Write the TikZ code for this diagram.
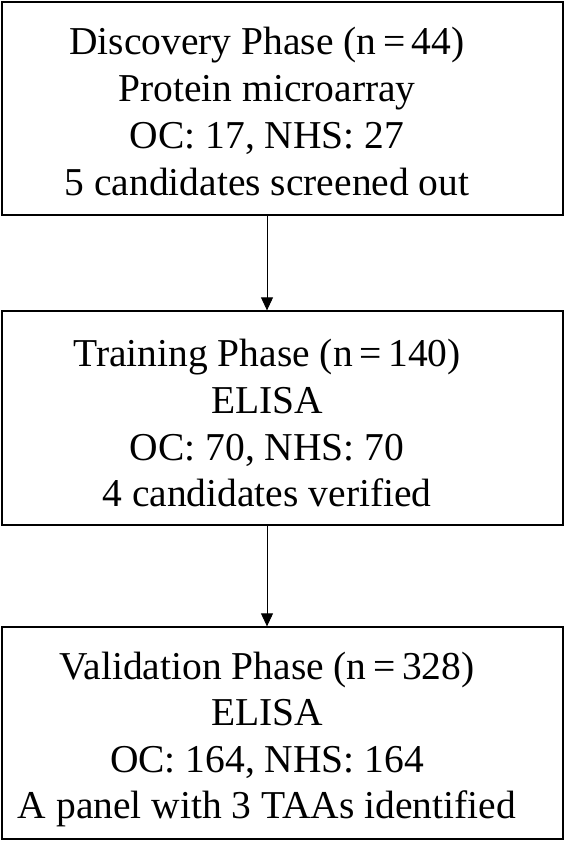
\documentclass[tikz,border=0pt]{standalone}
\usepackage{fontspec}
\setmainfont{Liberation Serif}
\usetikzlibrary{arrows.meta}
\begin{document}
\begin{tikzpicture}[x=1pt,y=1pt,
  box/.style={draw=black,line width=1.3pt,minimum width=561pt,inner sep=0pt},
  txt/.style={anchor=base,inner sep=0pt,font=\fontsize{39.5}{46.7}\selectfont},
  conn/.style={draw=black,line width=0.9pt,-{Triangle[width=12pt,length=13pt]}}]
\useasboundingbox (0,0) rectangle (567,-842);
\fill[white] (0,0) rectangle (567,-842);
% boxes
\node[box,minimum height=213pt] (b1) at (282.5,-108.5) {};
\node[box,minimum height=214pt] (b2) at (282.5,-418) {};
\node[box,minimum height=212pt] (b3) at (282.5,-733) {};
% box 1 text
\node[txt] (t11) at (267,-55) {Discovery Phase (n\,=\,44)};
\node[txt] (t12) at (267,-101.7) {Protein microarray};
\node[txt] (t13) at (267,-148.4) {OC: 17, NHS: 27};
\node[txt] (t14) at (267,-195.1) {5 candidates screened out};
% box 2 text
\node[txt] (t21) at (267,-366.5) {Training Phase (n\,=\,140)};
\node[txt] (t22) at (267,-413) {ELISA};
\node[txt] (t23) at (267,-460) {OC: 70, NHS: 70};
\node[txt] (t24) at (267,-506) {4 candidates verified};
% box 3 text
\node[txt] (t31) at (267,-679) {Validation Phase (n\,=\,328)};
\node[txt] (t32) at (267,-725.5) {ELISA};
\node[txt] (t33) at (267,-772) {OC: 164, NHS: 164};
\node[txt] (t34) at (267,-818.5) {A panel with 3 TAAs identified};
% connectors
\coordinate (a1) at (267,-215);
\coordinate (a2) at (267,-311);
\coordinate (a3) at (267,-525);
\coordinate (a4) at (267,-627);
\draw[conn] (b1.south -| a1) -- (b2.north -| a2);
\draw[conn] (b2.south -| a3) -- (b3.north -| a4);
\end{tikzpicture}
\end{document}
